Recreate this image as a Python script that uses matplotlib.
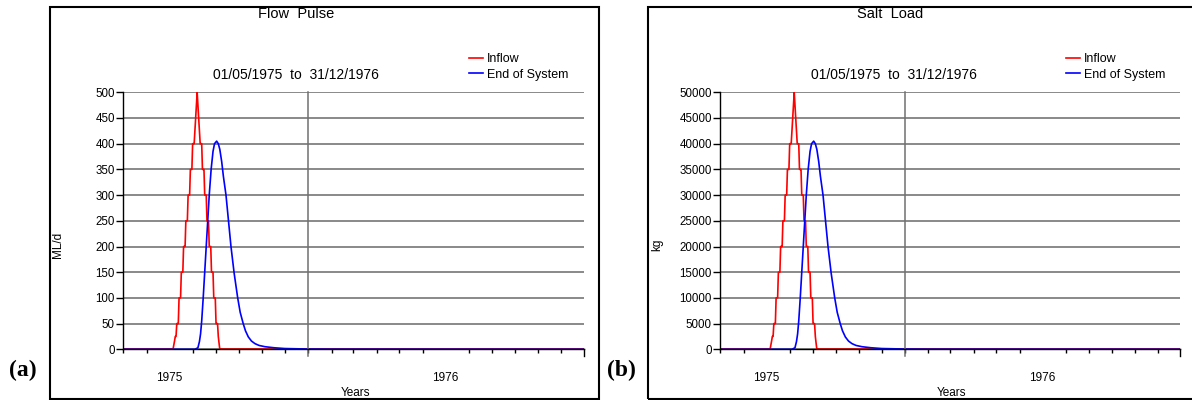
import numpy as np
import pandas as pd
import matplotlib
matplotlib.use('Agg')
import matplotlib.pyplot as plt
from matplotlib import font_manager
from matplotlib.patches import Rectangle
import matplotlib.dates as mdates


# ---- data ----
start = pd.Timestamp('1975-05-01')
end = pd.Timestamp('1976-12-31')

# inflow pulse, daily values from 1975-07-03 (day 63 after start)
inflow_first_day = 63
inflow_flow = [0, 0, 0, 0, 8, 16, 25, 25, 50, 50, 50, 100, 100, 100, 150, 150, 150,
               200, 200, 200, 250, 250, 250, 300, 300, 300, 350, 350, 350,
               400, 400, 400, 425, 450, 475, 500, 475, 450, 425, 400, 400, 400,
               350, 350, 350, 300, 300, 300, 250, 250, 250, 200, 200, 200,
               150, 150, 150, 100, 100, 100, 50, 50, 50, 25, 12, 0, 0]
inflow_salt = [0, 0, 0, 0, 800, 1600, 2500, 2500, 5000, 5000, 5000, 10000, 10000, 10000,
               15000, 15000, 15000, 20000, 20000, 20000, 25000, 25000, 25000,
               30000, 30000, 30000, 35000, 35000, 35000, 40000, 40000, 40000,
               42500, 45000, 47500, 50000, 47500, 45000, 42500, 40000, 40000, 40000,
               35000, 35000, 35000, 30000, 30000, 30000, 25000, 25000, 25000,
               20000, 20000, 20000, 15000, 15000, 15000, 10000, 10000, 10000,
               5000, 5000, 5000, 2500, 1200, 0, 0]

# end of system, days after start
eos_days = [0, 95, 99, 101, 102.5, 104, 106, 108, 110, 112, 114, 116.5, 119, 121, 123.8,
            126, 128, 130.5, 132.7, 136.2, 139.5, 142.8, 147, 151.7, 155, 159, 162,
            165.8, 170, 174.6, 180, 188, 200, 214, 245, 275, 610]
eos_flow = [0, 0, 3, 15, 30, 55, 100, 150, 200, 250, 300, 350, 385, 400, 405,
            400, 389, 365, 337, 300, 250, 200, 148, 100, 72, 50, 36,
            24, 16, 11, 7.5, 5, 3, 1.5, 0.5, 0.2, 0]
eos_salt = [0, 0, 300, 1500, 3000, 5500, 10000, 15000, 20000, 25000, 30000, 35000, 38500, 40000, 40500,
            40000, 38900, 36500, 33700, 30000, 25000, 20000, 14800, 10000, 7200, 5000, 3600,
            2400, 1600, 1100, 750, 500, 300, 150, 50, 20, 0]

W, H = 1192, 400

avail = {f.name for f in font_manager.fontManager.ttflist}
narrow = 'Liberation Sans Narrow' if 'Liberation Sans Narrow' in avail else 'Liberation Sans'
plt.rcParams['font.family'] = ['Liberation Sans', 'DejaVu Sans']


def px(x, y):
    return x / W, 1 - y / H


def draw_panel(ax, inflow, eos, ymax, ystep, ylabel, title, letter, cx, legx, ylab_x, letter_x, years_x):
    inflow_dates = start + pd.to_timedelta(np.arange(len(inflow)) + inflow_first_day, unit='D')
    eos_dates = start + pd.to_timedelta(eos_days, unit='D')
    # zero baseline of the inflow series over the whole period
    ax.plot([start, inflow_dates[0]], [0, 0], color='#ff0000', lw=1.2)
    ax.plot(inflow_dates, inflow, color='#ff0000', lw=1.2, label='Inflow')
    ax.plot([inflow_dates[-1], end], [0, 0], color='#ff0000', lw=1.2)
    ax.plot(eos_dates, eos, color='#0000ff', lw=1.2, label='End of System')

    ax.set_xlim(start, end)
    ax.set_ylim(0, ymax)
    ax.set_yticks(np.arange(0, ymax + 1, ystep))
    ax.yaxis.grid(True, color='#6a6a6a', lw=1.1)
    ax.set_axisbelow(True)
    for s in ['top', 'right']:
        ax.spines[s].set_visible(False)
    ax.spines['left'].set_linewidth(1.0)
    ax.spines['bottom'].set_linewidth(1.0)
    ax.tick_params(axis='y', length=5, width=1, pad=1, labelsize=8.3)

    # month ticks, year labels at mid-year
    ax.xaxis.set_minor_locator(mdates.MonthLocator())
    ax.tick_params(axis='x', which='minor', length=3, width=1)
    ax.set_xticks([pd.Timestamp('1975-07-01'), pd.Timestamp('1976-07-01')])
    ax.set_xticklabels(['1975', '1976'])
    ax.tick_params(axis='x', which='major', length=0, pad=16, labelsize=8.5)

    ax.axvline(pd.Timestamp('1976-01-01'), ymin=-0.028, ymax=1, color='#707070', lw=1.1, clip_on=False)
    ax.axvline(end, ymin=-0.028, ymax=0, color='black', lw=1.0, clip_on=False)

    fig.text(*px(cx[0], 14), title, ha='center', va='center', fontsize=10.5, family=narrow)
    fig.text(*px(cx[1], 75), '01/05/1975  to  31/12/1976', ha='center', va='center', fontsize=10, family=narrow)
    fig.text(*px(ylab_x, 245), ylabel, ha='center', va='center', rotation=90, fontsize=8.5, family=narrow)
    fig.text(*px(years_x, 393), 'Years', ha='center', va='center', fontsize=8.5, family=narrow)
    fig.text(*px(letter_x, 370), letter, ha='center', va='center', fontsize=17,
             family='Liberation Serif', weight='bold')

    ax.legend(loc='upper left', bbox_to_anchor=px(legx, 53), bbox_transform=fig.transFigure,
              frameon=False, borderpad=0, borderaxespad=0, handlelength=1.15, handletextpad=0.3,
              labelspacing=0.3, prop={'family': narrow, 'size': 9})


fig = plt.figure(figsize=(W / 100, H / 100), dpi=100)
ax_a = fig.add_axes([123.2 / W, (H - 349.3) / H, 460.4 / W, (349.3 - 92.3) / H])
ax_b = fig.add_axes([720.3 / W, (H - 349.3) / H, 460.1 / W, (349.3 - 92.3) / H])

draw_panel(ax_a, inflow_flow, eos_flow, 500, 50, 'ML/d', 'Flow  Pulse', '(a)',
           (296.6, 295.8), 468.5, 58.5, 23, 355)
draw_panel(ax_b, inflow_salt, eos_salt, 50000, 5000, 'kg', 'Salt  Load', '(b)',
           (890, 893.7), 1065.5, 657, 621, 951.5)

# panel frames
fig.patches.append(Rectangle(px(50, 398.5), 549 / W, 391.5 / H, transform=fig.transFigure,
                             fill=False, edgecolor='black', lw=1.5))
fig.patches.append(Rectangle(px(647.5, 398.5), 560 / W, 391.5 / H, transform=fig.transFigure,
                             fill=False, edgecolor='black', lw=1.5))

fig.savefig('out.png', dpi=100)
